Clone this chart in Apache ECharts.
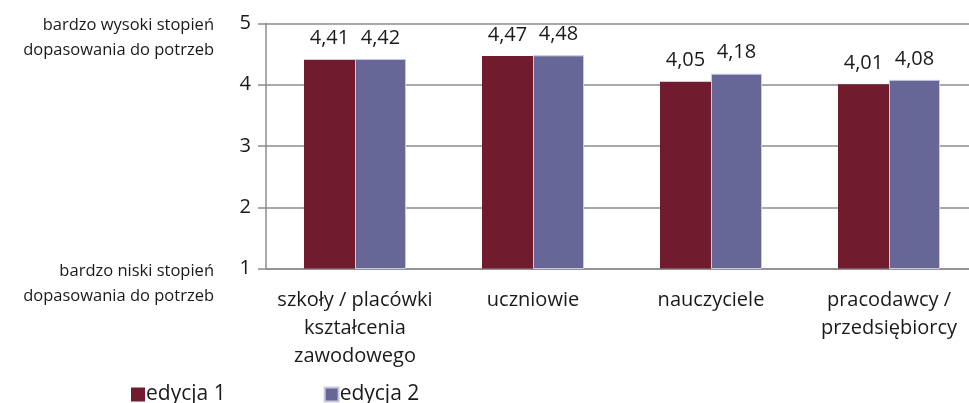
<!DOCTYPE html>
<html>
<head>
<meta charset="utf-8">
<script src="https://cdn.jsdelivr.net/npm/echarts@6/dist/echarts.min.js"></script>
<style>
  html, body { margin: 0; padding: 0; background: #fff; }
  #chart { width: 969px; height: 403px; }
</style>
</head>
<body>
<div id="chart"></div>
<script>
// dane z wykresu
var categories = ['szkoły / placówki\nkształcenia\nzawodowego', 'uczniowie', 'nauczyciele', 'pracodawcy /\nprzedsiębiorcy'];
var edycja1 = [4.41, 4.47, 4.05, 4.01];
var edycja2 = [4.42, 4.48, 4.18, 4.08];
var seriesNames = ['edycja 1', 'edycja 2'];
var yTicks = [1, 2, 3, 4, 5];

var font = '"Open Sans", "Noto Sans", sans-serif';
var chart = echarts.init(document.getElementById('chart'));

function fmt(p) {
  return String(p.value).replace('.', ',');
}

chart.setOption({
  animation: false,
  textStyle: { fontFamily: font },
  color: ['#701c2e', '#666797'],
  grid: { left: 266, top: 23.5, width: 712, height: 245, outerBoundsMode: 'none', containLabel: false },
  legend: {
    left: 126,
    top: 379,
    itemWidth: 14,
    itemHeight: 14,
    itemGap: 98,
    icon: 'rect',
    textStyle: { fontFamily: font, fontSize: 21, color: '#1a1a1a', padding: [2, 0, 0, -4] },
    data: seriesNames
  },
  xAxis: {
    type: 'category',
    data: categories,
    axisLine: { lineStyle: { color: '#8c8c8c', width: 1.5 } },
    axisTick: { show: false },
    axisLabel: { interval: 0, fontFamily: font, fontSize: 20, color: '#1a1a1a', lineHeight: 28, margin: 18 }
  },
  yAxis: {
    type: 'value',
    min: yTicks[0],
    max: yTicks[yTicks.length - 1],
    interval: 1,
    axisLine: { show: true, lineStyle: { color: '#8c8c8c', width: 1.5 } },
    axisTick: { show: true, length: 8, lineStyle: { color: '#8c8c8c', width: 1.5 } },
    axisLabel: { fontFamily: font, fontSize: 20, color: '#1a1a1a', margin: 15 },
    splitLine: { lineStyle: { color: '#8c8c8c', width: 1.5 } }
  },
  series: [
    {
      name: seriesNames[0],
      type: 'bar',
      data: edycja1,
      barWidth: 51,
      barGap: '0%',
      label: { show: true, position: 'top', distance: 11, fontFamily: font, fontSize: 20, color: '#1a1a1a', formatter: fmt }
    },
    {
      name: seriesNames[1],
      type: 'bar',
      data: edycja2,
      barWidth: 51,
      itemStyle: { borderColor: '#c9c9e0', borderWidth: 1 },
      label: { show: true, position: 'top', distance: 11, fontFamily: font, fontSize: 20, color: '#1a1a1a', formatter: fmt }
    }
  ],
  graphic: [
    {
      type: 'text', x: 214, y: 13,
      style: { text: 'bardzo wysoki stopień\ndopasowania do potrzeb', font: '16.5px ' + font, fill: '#1a1a1a', align: 'right', lineHeight: 25 }
    },
    {
      type: 'text', x: 214, y: 259,
      style: { text: 'bardzo niski stopień\ndopasowania do potrzeb', font: '16.5px ' + font, fill: '#1a1a1a', align: 'right', lineHeight: 25 }
    }
  ]
});
</script>
</body>
</html>
